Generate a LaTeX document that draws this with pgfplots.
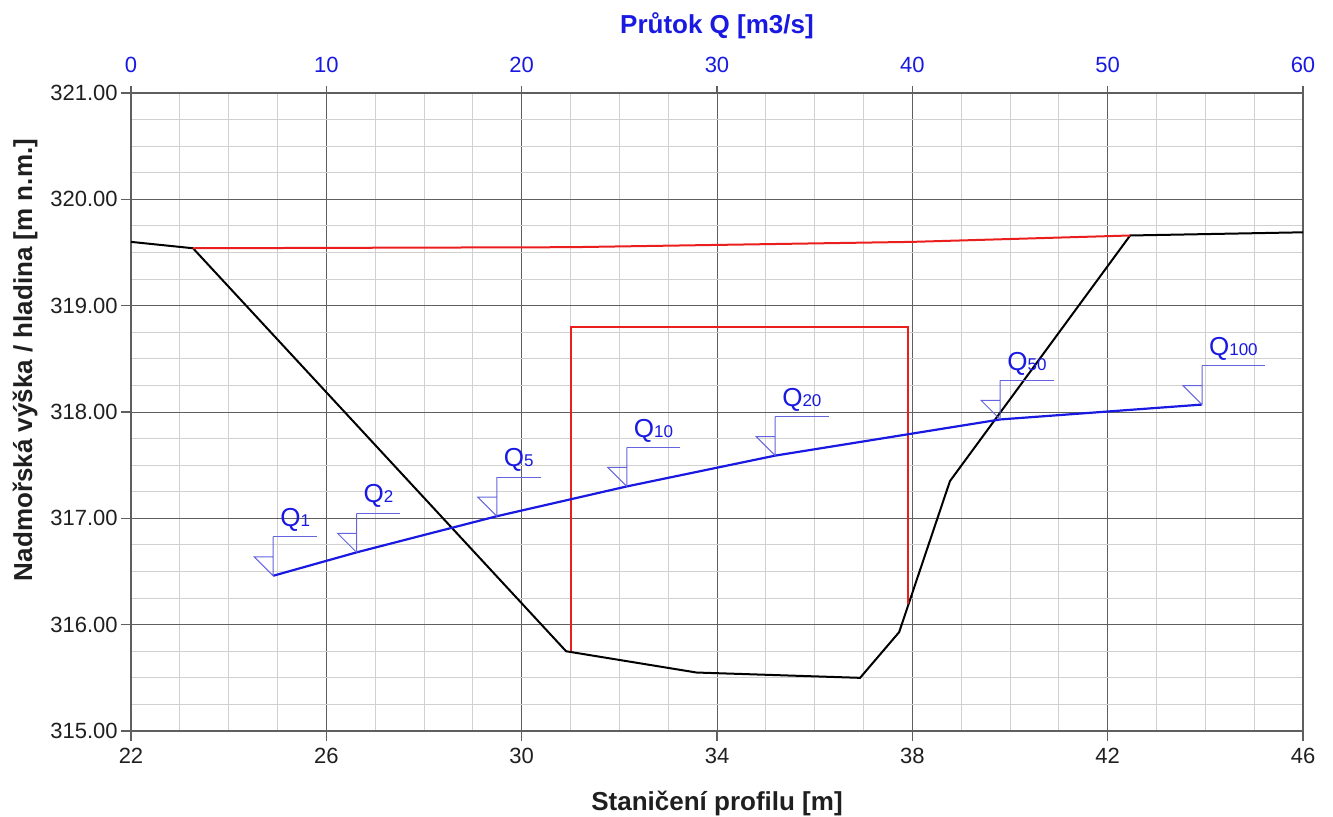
\documentclass[border=0pt]{standalone}
\usepackage{fontspec}
\setmainfont{Liberation Sans}
\usepackage{pgfplots}
\usepackage{pgfplotstable}
\pgfplotsset{compat=1.18}

\definecolor{qblue}{RGB}{25,25,225}
\definecolor{mblue}{RGB}{100,100,225}
\definecolor{tred}{RGB}{235,30,30}
\definecolor{gmaj}{RGB}{95,95,95}
\definecolor{gmin}{RGB}{208,208,208}

% znacka hladiny: trojuhelnik + svisla carka
\pgfdeclareplotmark{hladina}{%
  \pgfpathmoveto{\pgfpointorigin}%
  \pgfpathlineto{\pgfpoint{0pt}{19.5pt}}%
  \pgfpathmoveto{\pgfpointorigin}%
  \pgfpathlineto{\pgfpoint{-9.5pt}{9.5pt}}%
  \pgfpathlineto{\pgfpoint{0pt}{9.5pt}}%
  \pgfusepathqstroke}

% terén
\pgfplotstableread{
x y
22.00 319.60
23.27 319.54
30.91 315.75
33.58 315.55
36.93 315.50
37.73 315.93
38.77 317.35
42.46 319.66
46.00 319.69
}\teren

% hladina pri Q kapacitnim
\pgfplotstableread{
x y
23.27 319.54
31.00 319.55
38.00 319.60
42.46 319.66
}\hladina

% obdelnik
\pgfplotstableread{
x y
31.00 315.75
31.00 318.80
37.92 318.80
37.92 316.19
}\obdelnik

% merna krivka Q - H
\pgfplotstableread{
q y lab
7.28 316.46 1
11.55 316.68 2
18.73 317.02 5
25.38 317.30 10
32.98 317.59 20
44.50 317.93 50
54.83 318.07 100
}\krivka

\begin{document}
\begin{tikzpicture}
\begin{axis}[
  name=hlavni,
  scale only axis, width=586pt, height=319pt,
  xmin=22, xmax=46, ymin=315, ymax=321,
  xtick={22,26,...,46}, ytick={315,316,...,321},
  minor x tick num=3, minor y tick num=3,
  grid=both,
  major grid style={gmaj, line width=0.5pt},
  minor grid style={gmin, line width=0.5pt},
  axis line style={gmaj, line width=0.6pt},
  xtick pos=left, ytick pos=left,
  tick align=outside,
  major tick length=5pt, minor tick length=0pt,
  tick style={gmaj, line width=0.6pt},
  /pgf/number format/assume math mode=true,
  tick label style={font=\fontsize{11}{13}\selectfont, text=black!88},
  yticklabel style={inner xsep=1.5pt, /pgf/number format/fixed, /pgf/number format/fixed zerofill, /pgf/number format/precision=2},
  xlabel={Staničení profilu [m]},
  ylabel={Nadmořská výška / hladina [m n.m.]},
  label style={font=\bfseries\fontsize{13}{15}\selectfont, text=black!88},
  xlabel style={at={(rel axis cs:0.5,0)}, anchor=base, yshift=-39.5pt},
  ylabel style={at={(rel axis cs:0,0.5815)}, anchor=center, yshift=53pt},
]
\addplot[black, line width=1pt] table[x=x, y=y] {\teren};
\addplot[tred, line width=1pt] table[x=x, y=y] {\hladina};
\addplot[tred, line width=1pt] table[x=x, y=y] {\obdelnik};
\end{axis}

\begin{axis}[
  scale only axis, width=586pt, height=319pt,
  xmin=0, xmax=60, ymin=315, ymax=321,
  axis x line*=top, axis y line=none,
  xtick={0,10,...,60},
  tick align=outside,
  major tick length=3.5pt, minor tick length=0pt,
  axis line style={gmaj, line width=0.6pt},
  tick style={gmaj, line width=0.6pt},
  /pgf/number format/assume math mode=true,
  xticklabel style={font=\fontsize{11}{13}\selectfont, text=qblue, yshift=3pt},
  xlabel={Průtok Q [m3/s]},
  xlabel style={font=\bfseries\fontsize{13}{15}\selectfont, text=qblue,
    at={(rel axis cs:0.5,1)}, anchor=base, yshift=30pt},
]
\addplot[qblue, line width=1.1pt] table[x=q, y=y] {\krivka};
\addplot[mblue, line width=0.5pt, only marks, mark=hladina,
  point meta=explicit symbolic,
  nodes near coords={Q\fontsize{8.5}{9}\selectfont\pgfplotspointmeta},
  nodes near coords align={anchor=south west},
  every node near coord/.append style={anchor=south west, yshift=19.5pt,
    inner xsep=3.3pt, inner ysep=2.5pt, text=qblue,
    font=\fontsize{13}{15}\selectfont,
    append after command={(\tikzlastnode.south west) edge[mblue, line width=0.5pt] (\tikzlastnode.south east)}},
] table[x=q, y=y, meta=lab] {\krivka};
\end{axis}

\pgfresetboundingbox
\path[use as bounding box] (hlavni.south west) ++(-65.5pt,-42.5pt) rectangle ++(666.5pt,408pt);
\end{tikzpicture}
\end{document}
